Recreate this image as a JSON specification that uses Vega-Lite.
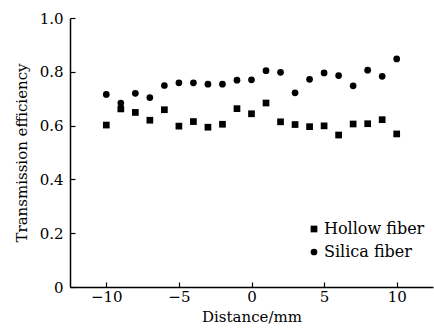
{
  "$schema": "https://vega.github.io/schema/vega-lite/v6.json",
  "width": 363,
  "height": 269,
  "autosize": {"type": "none"},
  "padding": {"left": 70, "top": 18, "right": 1, "bottom": 48},
  "background": "white",
  "config": {
    "view": {"stroke": null},
    "font": "DejaVu Serif",
    "axis": {
      "domainColor": "black", "domainWidth": 1.5, "tickColor": "black", "tickWidth": 1.2,
      "labelColor": "black", "titleColor": "black", "labelFont": "DejaVu Serif", "titleFont": "DejaVu Serif",
      "labelFontSize": 15, "titleFontSize": 15, "titleFontWeight": "normal", "grid": false
    }
  },
  "data": {"values": [
    {"d": -10, "t": 0.602, "fiber": "Hollow fiber"},
    {"d": -9, "t": 0.662, "fiber": "Hollow fiber"},
    {"d": -8, "t": 0.649, "fiber": "Hollow fiber"},
    {"d": -7, "t": 0.620, "fiber": "Hollow fiber"},
    {"d": -6, "t": 0.659, "fiber": "Hollow fiber"},
    {"d": -5, "t": 0.598, "fiber": "Hollow fiber"},
    {"d": -4, "t": 0.615, "fiber": "Hollow fiber"},
    {"d": -3, "t": 0.594, "fiber": "Hollow fiber"},
    {"d": -2, "t": 0.605, "fiber": "Hollow fiber"},
    {"d": -1, "t": 0.663, "fiber": "Hollow fiber"},
    {"d": 0, "t": 0.644, "fiber": "Hollow fiber"},
    {"d": 1, "t": 0.684, "fiber": "Hollow fiber"},
    {"d": 2, "t": 0.614, "fiber": "Hollow fiber"},
    {"d": 3, "t": 0.604, "fiber": "Hollow fiber"},
    {"d": 4, "t": 0.596, "fiber": "Hollow fiber"},
    {"d": 5, "t": 0.599, "fiber": "Hollow fiber"},
    {"d": 6, "t": 0.565, "fiber": "Hollow fiber"},
    {"d": 7, "t": 0.606, "fiber": "Hollow fiber"},
    {"d": 8, "t": 0.607, "fiber": "Hollow fiber"},
    {"d": 9, "t": 0.622, "fiber": "Hollow fiber"},
    {"d": 10, "t": 0.569, "fiber": "Hollow fiber"},
    {"d": -10, "t": 0.716, "fiber": "Silica fiber"},
    {"d": -9, "t": 0.684, "fiber": "Silica fiber"},
    {"d": -8, "t": 0.720, "fiber": "Silica fiber"},
    {"d": -7, "t": 0.704, "fiber": "Silica fiber"},
    {"d": -6, "t": 0.749, "fiber": "Silica fiber"},
    {"d": -5, "t": 0.759, "fiber": "Silica fiber"},
    {"d": -4, "t": 0.759, "fiber": "Silica fiber"},
    {"d": -3, "t": 0.754, "fiber": "Silica fiber"},
    {"d": -2, "t": 0.754, "fiber": "Silica fiber"},
    {"d": -1, "t": 0.769, "fiber": "Silica fiber"},
    {"d": 0, "t": 0.770, "fiber": "Silica fiber"},
    {"d": 1, "t": 0.804, "fiber": "Silica fiber"},
    {"d": 2, "t": 0.798, "fiber": "Silica fiber"},
    {"d": 3, "t": 0.722, "fiber": "Silica fiber"},
    {"d": 4, "t": 0.772, "fiber": "Silica fiber"},
    {"d": 5, "t": 0.796, "fiber": "Silica fiber"},
    {"d": 6, "t": 0.786, "fiber": "Silica fiber"},
    {"d": 7, "t": 0.748, "fiber": "Silica fiber"},
    {"d": 8, "t": 0.806, "fiber": "Silica fiber"},
    {"d": 9, "t": 0.783, "fiber": "Silica fiber"},
    {"d": 10, "t": 0.848, "fiber": "Silica fiber"}
  ]},
  "mark": {"type": "point", "filled": true, "opacity": 1, "size": 45, "color": "black"},
  "encoding": {
    "x": {"field": "d", "type": "quantitative", "title": "Distance/mm",
      "scale": {"domain": [-12.5, 12.5], "nice": false, "zero": false},
      "axis": {"values": [-10, -5, 0, 5, 10], "tickSize": -5, "labelPadding": 7, "titlePadding": 5}},
    "y": {"field": "t", "type": "quantitative", "title": "Transmission efficiency",
      "scale": {"domain": [0, 1], "nice": false},
      "axis": {"values": [0, 0.2, 0.4, 0.6, 0.8, 1.0], "tickSize": -5, "labelPadding": 12,
        "labelExpr": "datum.value == 0 ? '0' : format(datum.value, '.1f')", "titlePadding": 10}},
    "shape": {"field": "fiber", "type": "nominal",
      "scale": {"domain": ["Hollow fiber", "Silica fiber"], "range": ["square", "circle"]},
      "legend": {"title": null, "orient": "none", "legendX": 236, "legendY": 203,
        "labelFont": "DejaVu Serif", "labelFontSize": 16, "labelColor": "black",
        "symbolFillColor": "black", "symbolStrokeColor": "black", "symbolSize": 45, "rowPadding": 7, "labelOffset": 2}}
  }
}
